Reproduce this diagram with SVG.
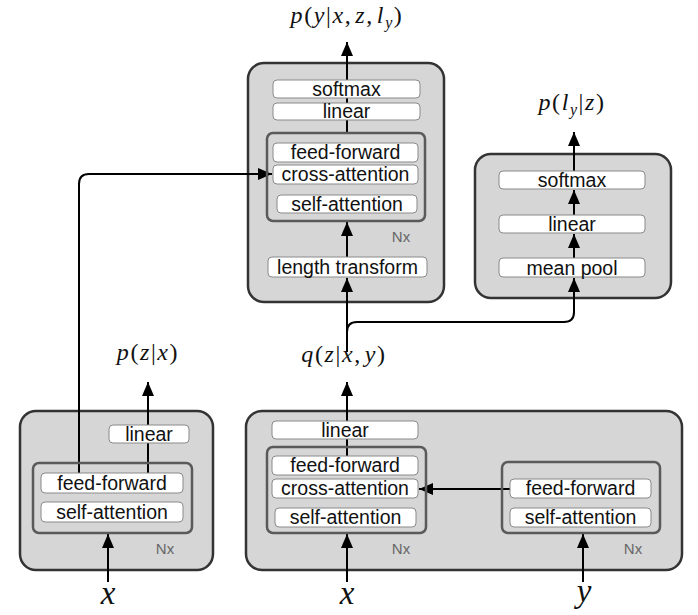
<svg xmlns="http://www.w3.org/2000/svg" width="698" height="615" viewBox="0 0 698 615">
<style>
.outer{fill:#d6d6d6;stroke:#333;stroke-width:2.5}
.inner{fill:none;stroke:#5a5a5a;stroke-width:2.5}
.blk{fill:#fff;stroke:#8a8a8a;stroke-width:1}
.t{font-family:"Liberation Sans",Arial,sans-serif;font-size:19.5px;fill:#111;text-anchor:middle}
.nx{font-family:"Liberation Sans",Arial,sans-serif;font-size:15px;fill:#666;text-anchor:middle}
.m{font-family:"Liberation Serif","Times New Roman",serif;font-size:24px;letter-spacing:1.6px;fill:#111;text-anchor:middle}
.i{font-style:italic}
.big{font-family:"Liberation Serif","Times New Roman",serif;font-size:33px;font-style:italic;fill:#111;text-anchor:middle}
.ar{fill:none;stroke:#000;stroke-width:2;marker-end:url(#ah)}
</style>
<defs>
<marker id="ah" markerUnits="userSpaceOnUse" markerWidth="14" markerHeight="12" refX="14" refY="6" orient="auto">
<path d="M0,0 L14,6 L0,12 Z" fill="#000"/>
</marker>
</defs>

<g id="decoder-box"><rect class="outer" x="248" y="63" width="196" height="239" rx="16"/></g>
<g id="length-box"><rect class="outer" x="475" y="154" width="196" height="144" rx="16"/></g>
<g id="prior-box"><rect class="outer" x="20" y="411" width="193" height="159" rx="16"/></g>
<g id="posterior-box"><rect class="outer" x="246" y="411" width="436" height="159" rx="16"/></g>

<g id="connectors">
<line class="ar" x1="347" y1="133" x2="347" y2="42"/>
<line class="ar" x1="347" y1="257" x2="347" y2="222"/>
<line class="ar" x1="347" y1="352" x2="347" y2="278"/>
<path class="ar" d="M347,332 Q347,322 357,322 L564,322 Q574,322 574,312 L574,278"/>
<line class="ar" x1="574" y1="258" x2="574" y2="234"/>
<line class="ar" x1="574" y1="215" x2="574" y2="190"/>
<line class="ar" x1="574" y1="171" x2="574" y2="132"/>
<path class="ar" d="M79,473 L79,184 Q79,174 89,174 L272,174"/>
<line class="ar" x1="148" y1="473" x2="148" y2="382"/>
<line class="ar" x1="108" y1="582" x2="108" y2="534"/>
<line class="ar" x1="347" y1="456" x2="347" y2="382"/>
<line class="ar" x1="347" y1="582" x2="347" y2="534"/>
<line class="ar" x1="583" y1="582" x2="583" y2="534"/>
<line class="ar" x1="510" y1="489" x2="419" y2="489"/>
</g>

<g id="decoder">
<rect class="blk" x="273" y="80" width="147" height="18" rx="4"/><text class="t" x="346.5" y="95.5">softmax</text>
<rect class="blk" x="273" y="103" width="147" height="17" rx="4"/><text class="t" x="346.5" y="118">linear</text>
<rect class="inner" x="267" y="133" width="158" height="88" rx="6"/>
<rect class="blk" x="273" y="143" width="145" height="19" rx="4"/><text class="t" x="345.5" y="159">feed-forward</text>
<rect class="blk" x="273" y="165" width="145" height="19" rx="4"/><text class="t" x="345.5" y="181">cross-attention</text>
<rect class="blk" x="277" y="195" width="140" height="18" rx="4"/><text class="t" x="347" y="210.5">self-attention</text>
<text class="nx" x="401" y="242">Nx</text>
<rect class="blk" x="268" y="257" width="159" height="20" rx="4"/><text class="t" x="347.5" y="273.5">length transform</text>
</g>

<g id="length-predictor">
<rect class="blk" x="499" y="171" width="146" height="18" rx="4"/><text class="t" x="572" y="187">softmax</text>
<rect class="blk" x="499" y="215" width="146" height="18" rx="4"/><text class="t" x="572" y="231">linear</text>
<rect class="blk" x="499" y="258" width="146" height="19" rx="4"/><text class="t" x="572" y="274.5">mean pool</text>
</g>

<g id="prior">
<rect class="blk" x="109" y="425" width="80" height="18" rx="4"/><text class="t" x="149" y="441">linear</text>
<rect class="inner" x="33" y="463" width="159" height="70" rx="6"/>
<rect class="blk" x="41" y="473" width="142" height="20" rx="4"/><text class="t" x="112" y="490">feed-forward</text>
<rect class="blk" x="41" y="502" width="142" height="20" rx="4"/><text class="t" x="112" y="519">self-attention</text>
<text class="nx" x="165" y="554">Nx</text>
</g>

<g id="posterior">
<rect class="blk" x="272" y="421" width="146" height="18" rx="4"/><text class="t" x="345" y="437">linear</text>
<rect class="inner" x="267" y="447" width="159" height="86" rx="6"/>
<rect class="blk" x="272" y="456" width="146" height="19" rx="4"/><text class="t" x="345" y="472">feed-forward</text>
<rect class="blk" x="272" y="479" width="146" height="19" rx="4"/><text class="t" x="345" y="495">cross-attention</text>
<rect class="blk" x="275" y="508" width="141" height="19" rx="4"/><text class="t" x="345.5" y="524">self-attention</text>
<text class="nx" x="401" y="554">Nx</text>
<rect class="inner" x="502" y="462" width="158" height="71" rx="6"/>
<rect class="blk" x="510" y="479" width="141" height="19" rx="4"/><text class="t" x="580.5" y="495">feed-forward</text>
<rect class="blk" x="510" y="508" width="141" height="19" rx="4"/><text class="t" x="580.5" y="524">self-attention</text>
<text class="nx" x="633" y="554">Nx</text>
</g>

<g id="labels">
<text class="m" x="347" y="23"><tspan class="i">p</tspan>(<tspan class="i">y</tspan>|<tspan class="i">x</tspan>,<tspan class="i" dx="3">z</tspan>,<tspan class="i" dx="3">l</tspan><tspan class="i" font-size="16" dy="5">y</tspan><tspan dy="-5">)</tspan></text>
<text class="m" x="572" y="110"><tspan class="i">p</tspan>(<tspan class="i">l</tspan><tspan class="i" font-size="16" dy="5">y</tspan><tspan dy="-5">|</tspan><tspan class="i">z</tspan>)</text>
<text class="m" x="148" y="360"><tspan class="i">p</tspan>(<tspan class="i">z</tspan>|<tspan class="i">x</tspan>)</text>
<text class="m" x="344" y="362"><tspan class="i">q</tspan>(<tspan class="i">z</tspan>|<tspan class="i">x</tspan>,<tspan class="i" dx="3">y</tspan>)</text>
<text class="big" x="108" y="604">x</text>
<text class="big" x="347" y="604">x</text>
<text class="big" x="584" y="602">y</text>
</g>
</svg>
